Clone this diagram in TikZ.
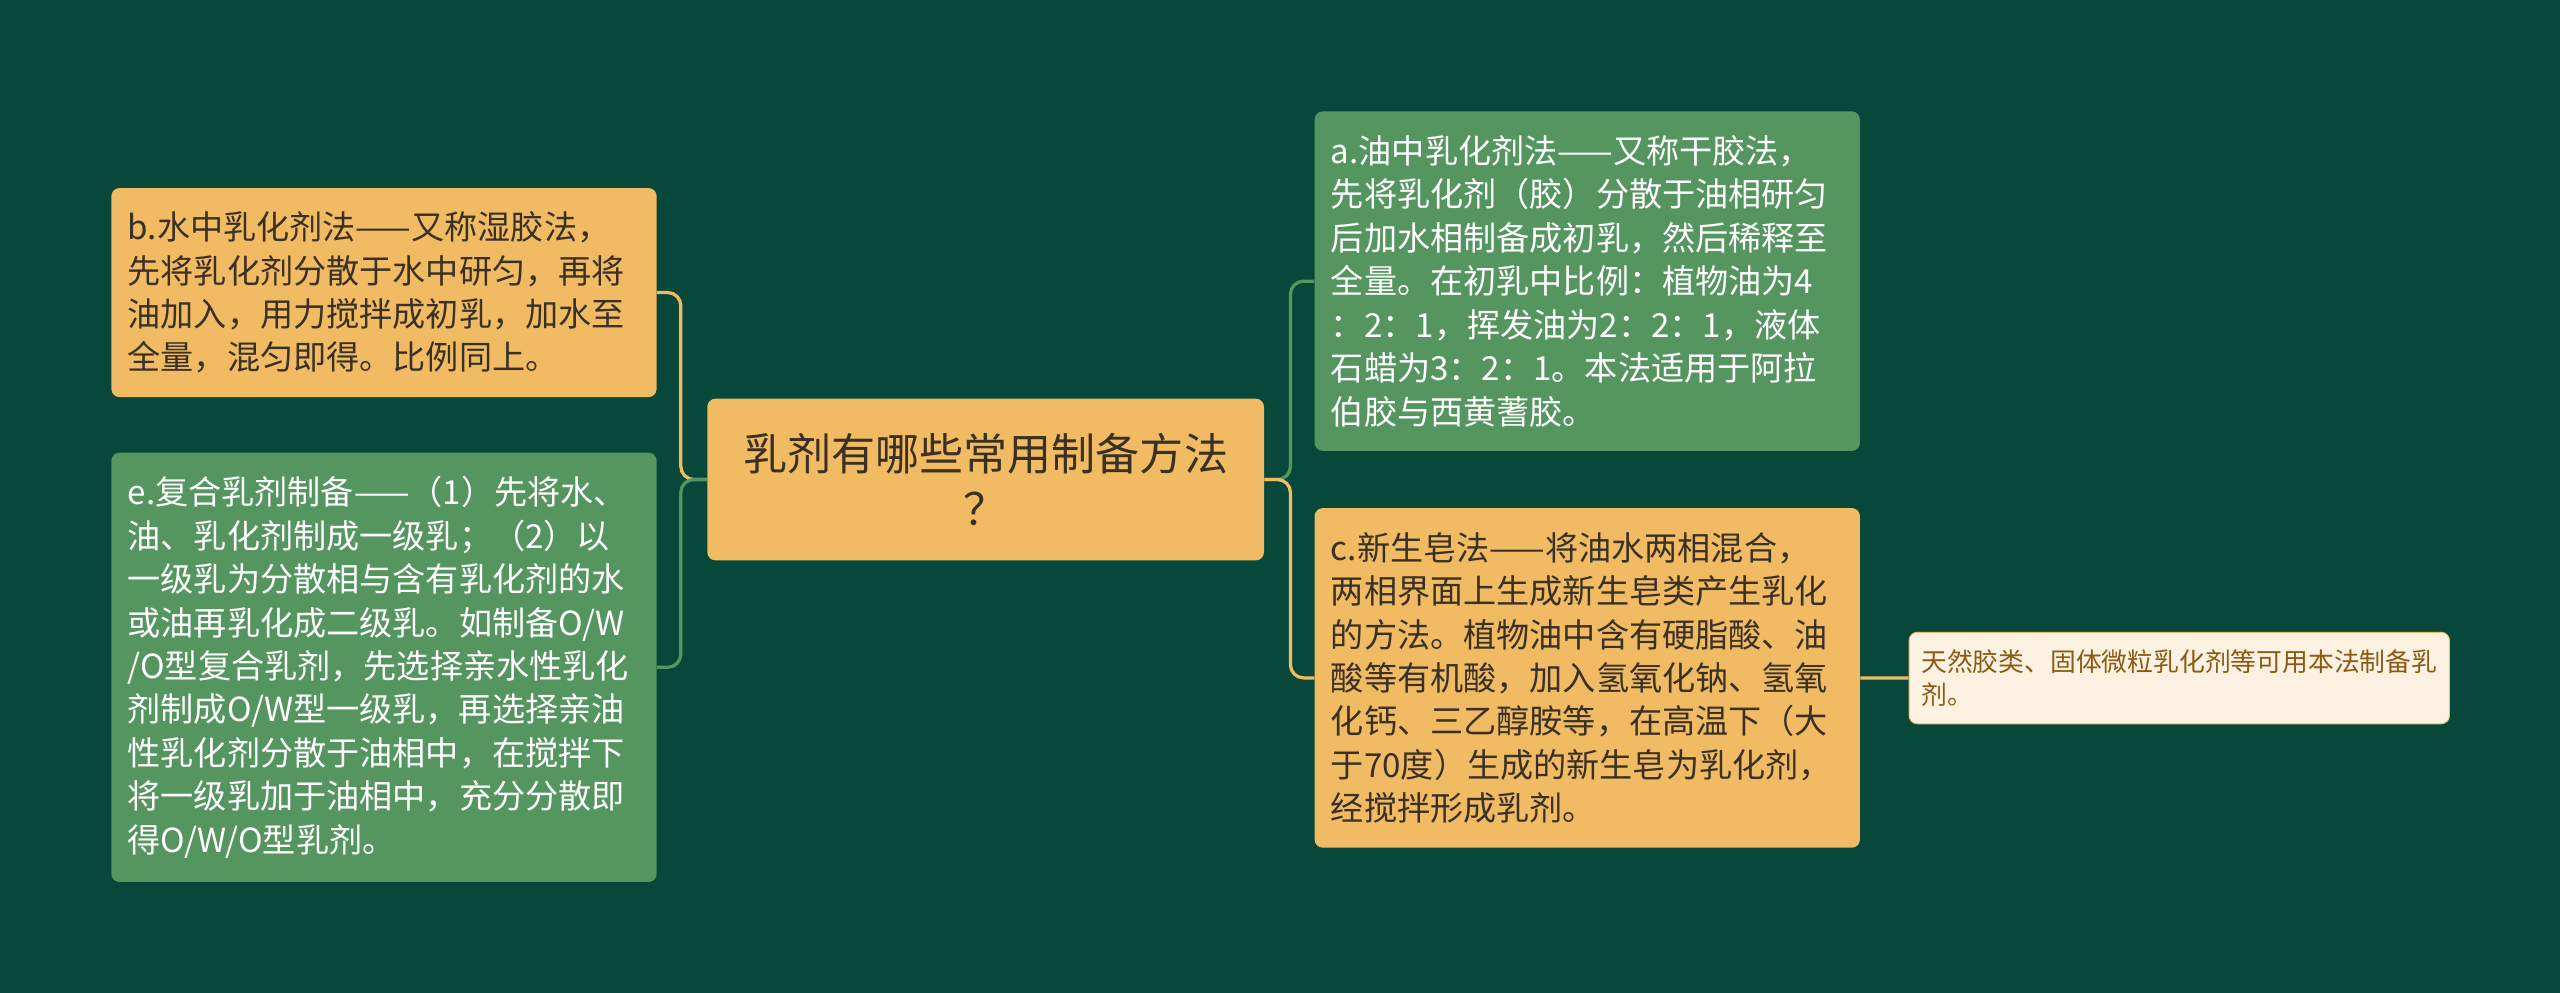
\documentclass[tikz,border=0pt]{standalone}
\usepackage{fontspec}
\usepackage{xcolor}
\usepackage{tikz}
\newfontfamily\cjk{Noto Sans CJK SC}
\definecolor{bgdark}{HTML}{08483A}
\definecolor{leafgreen}{HTML}{55955F}
\definecolor{leafyellow}{HTML}{F0BB62}
\definecolor{leafcream}{HTML}{FDF1E2}
\definecolor{inkdark}{HTML}{3A3024}
\definecolor{inkbrown}{HTML}{8A5B12}

\begin{document}
\begin{tikzpicture}[x=1pt,y=-1pt,
  leaf/.style={anchor=north west,rounded corners=5pt,inner xsep=10pt,inner ysep=0pt,
    text width=314pt,align=left,font=\cjk\fontsize{20.3}{26.6}\selectfont},
  greenleaf/.style={leaf,fill=leafgreen,text=white},
  yellowleaf/.style={leaf,fill=leafyellow,text=inkdark},
  link/.style={line width=2pt,rounded corners=8pt}]
\useasboundingbox (0,0) rectangle (1568,608);
\fill[bgdark] (0,0) rectangle (1568,608);

\node[anchor=north west,rounded corners=5pt,fill=leafyellow,text=inkdark,
  minimum width=341pt,minimum height=99pt,align=center,
  font=\cjk\fontsize{27}{34}\selectfont] (root) at (433,244)
  {乳剂有哪些常用制备方法\\？};

\node[yellowleaf,minimum height=128pt] (wetgum) at (68,115)
  {b.水中乳化剂法——又称湿胶法，\\先将乳化剂分散于水中研匀，再将\\油加入，用力搅拌成初乳，加水至\\全量，混匀即得。比例同上。};
\node[greenleaf,minimum height=263pt] (multiple) at (68,277)
  {e.复合乳剂制备——（1）先将水、\\油、乳化剂制成一级乳；（2）以\\一级乳为分散相与含有乳化剂的水\\或油再乳化成二级乳。如制备O/W\\/O型复合乳剂，先选择亲水性乳化\\剂制成O/W型一级乳，再选择亲油\\性乳化剂分散于油相中，在搅拌下\\将一级乳加于油相中，充分分散即\\得O/W/O型乳剂。};
\node[greenleaf,minimum height=208pt] (drygum) at (805,68)
  {a.油中乳化剂法——又称干胶法，\\先将乳化剂（胶）分散于油相研匀\\后加水相制备成初乳，然后稀释至\\全量。在初乳中比例：植物油为4\\：2：1，挥发油为2：2：1，液体\\石蜡为3：2：1。本法适用于阿拉\\伯胶与西黄蓍胶。};
\node[yellowleaf,minimum height=208pt] (nascentsoap) at (805,311)
  {c.新生皂法——将油水两相混合，\\两相界面上生成新生皂类产生乳化\\的方法。植物油中含有硬脂酸、油\\酸等有机酸，加入氢氧化钠、氢氧\\化钙、三乙醇胺等，在高温下（大\\于70度）生成的新生皂为乳化剂，\\经搅拌形成乳剂。};
\node[anchor=north west,rounded corners=5pt,fill=leafcream,draw=leafyellow,line width=0.6pt,
  text=inkbrown,inner xsep=7.5pt,inner ysep=0pt,text width=316pt,minimum height=56pt,
  align=left,font=\cjk\fontsize{15.8}{20}\selectfont] (soapnote) at (1169,387)
  {天然胶类、固体微粒乳化剂等可用本法制备乳\\剂。};

% branches
\draw[link,leafyellow] (root.west) -- ++(-16,0) |- (wetgum.east);
\draw[link,leafgreen] (root.west) -- ++(-16,0) |- (multiple.east);
\draw[link,leafgreen] (root.east) -- ++(16,0) |- (drygum.west);
\draw[link,leafyellow] (root.east) -- ++(16,0) |- (nascentsoap.west);
\draw[link,leafyellow] (nascentsoap.east) -- (soapnote.west);
\end{tikzpicture}
\end{document}
